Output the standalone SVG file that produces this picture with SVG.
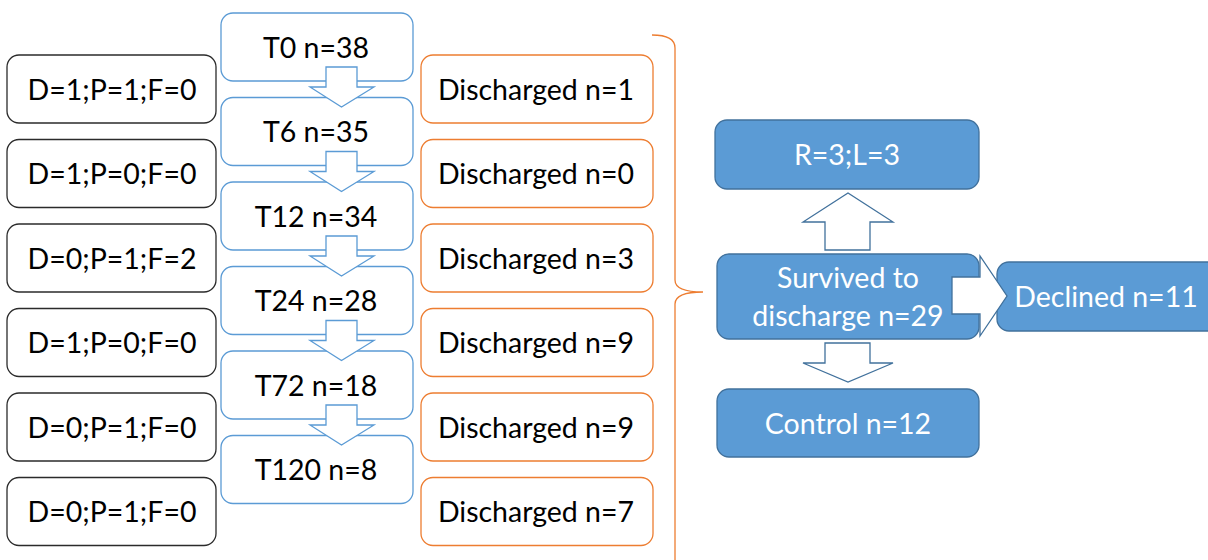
<svg xmlns="http://www.w3.org/2000/svg" width="1208" height="560" viewBox="0 0 1208 560">
<style>
text{font-family:Lato,"Open Sans","Liberation Sans",sans-serif;font-size:28.5px;text-anchor:middle}
.blk rect{fill:#fff;stroke:#2b2b2b;stroke-width:1.3}
.tb rect{fill:#fff;stroke:#5B9BD5;stroke-width:1.3}
.org rect{fill:#fff;stroke:#ED7D31;stroke-width:1.3}
.blu rect{fill:#5B9BD5;stroke:#41719C;stroke-width:1.3}
.blu text{fill:#fff}
.ta{fill:#fff;stroke:#5B9BD5;stroke-width:1.3}
.ba{fill:#fff;stroke:#41719C;stroke-width:1.3}
</style>
<rect width="1208" height="560" fill="#fff"/>
<g id="d1" class="blk"><rect x="7" y="55" width="209" height="68" rx="12"/><text x="112" y="99.5">D=1;P=1;F=0</text></g>
<g id="d2" class="blk"><rect x="7" y="139.5" width="209" height="68" rx="12"/><text x="112" y="184">D=1;P=0;F=0</text></g>
<g id="d3" class="blk"><rect x="7" y="224" width="209" height="68" rx="12"/><text x="112" y="268.5">D=0;P=1;F=2</text></g>
<g id="d4" class="blk"><rect x="7" y="308.5" width="209" height="68" rx="12"/><text x="112" y="353">D=1;P=0;F=0</text></g>
<g id="d5" class="blk"><rect x="7" y="393" width="209" height="68" rx="12"/><text x="112" y="437.5">D=0;P=1;F=0</text></g>
<g id="d6" class="blk"><rect x="7" y="477.5" width="209" height="68" rx="12"/><text x="112" y="522">D=0;P=1;F=0</text></g>

<g id="t0" class="tb"><rect x="221" y="13" width="192" height="68" rx="12"/><text x="316" y="57.5">T0 n=38</text></g>
<g id="t6" class="tb"><rect x="221" y="97.5" width="192" height="68" rx="12"/><text x="316" y="142">T6 n=35</text></g>
<g id="t12" class="tb"><rect x="221" y="182" width="192" height="68" rx="12"/><text x="316" y="226.5">T12 n=34</text></g>
<g id="t24" class="tb"><rect x="221" y="266.5" width="192" height="68" rx="12"/><text x="316" y="311">T24 n=28</text></g>
<g id="t72" class="tb"><rect x="221" y="351" width="192" height="68" rx="12"/><text x="316" y="395.5">T72 n=18</text></g>
<g id="t120" class="tb"><rect x="221" y="435.5" width="192" height="68" rx="12"/><text x="316" y="480">T120 n=8</text></g>

<g id="o1" class="org"><rect x="421" y="55" width="232" height="68" rx="12"/><text x="536" y="99.5">Discharged n=1</text></g>
<g id="o2" class="org"><rect x="421" y="139.5" width="232" height="68" rx="12"/><text x="536" y="184">Discharged n=0</text></g>
<g id="o3" class="org"><rect x="421" y="224" width="232" height="68" rx="12"/><text x="536" y="268.5">Discharged n=3</text></g>
<g id="o4" class="org"><rect x="421" y="308.5" width="232" height="68" rx="12"/><text x="536" y="353">Discharged n=9</text></g>
<g id="o5" class="org"><rect x="421" y="393" width="232" height="68" rx="12"/><text x="536" y="437.5">Discharged n=9</text></g>
<g id="o6" class="org"><rect x="421" y="477.5" width="232" height="68" rx="12"/><text x="536" y="522">Discharged n=7</text></g>

<g id="rl" class="blu"><rect x="715" y="120" width="264" height="69" rx="12"/><text x="847" y="164.5">R=3;L=3</text></g>
<g id="surv" class="blu"><rect x="717" y="254" width="262" height="85" rx="12"/><text x="848" y="287.5">Survived to</text><text x="848" y="325.5">discharge n=29</text></g>
<g id="ctrl" class="blu"><rect x="717" y="389" width="262" height="68" rx="12"/><text x="848" y="433.5">Control n=12</text></g>
<g id="decl" class="blu"><rect x="997" y="262" width="225" height="69" rx="12"/><text x="1106" y="307">Declined n=11</text></g>

<g id="connectors">
<path class="ta" d="M326,67H357V87H374L341.5,107L310,87H326Z"/>
<path class="ta" d="M326,151.5H357V171.5H374L341.5,191.5L310,171.5H326Z"/>
<path class="ta" d="M326,236H357V256H374L341.5,276L310,256H326Z"/>
<path class="ta" d="M326,320.5H357V340.5H374L341.5,360.5L310,340.5H326Z"/>
<path class="ta" d="M326,405H357V425H374L341.5,445L310,425H326Z"/>
<path class="ba" d="M825,250V222H803L848,193L893,222H870V250Z"/>
<path class="ba" d="M825,343H870V363H893L848,382L803,363H825Z"/>
<path class="ba" d="M952,277H980V256L1007,296L980,336V314H952Z"/>
<path fill="none" stroke="#ED7D31" stroke-width="1.3" d="M652,35Q675,35 675,48V280Q675,292 703,292Q675,292 675,304V560"/>
</g>
</svg>
